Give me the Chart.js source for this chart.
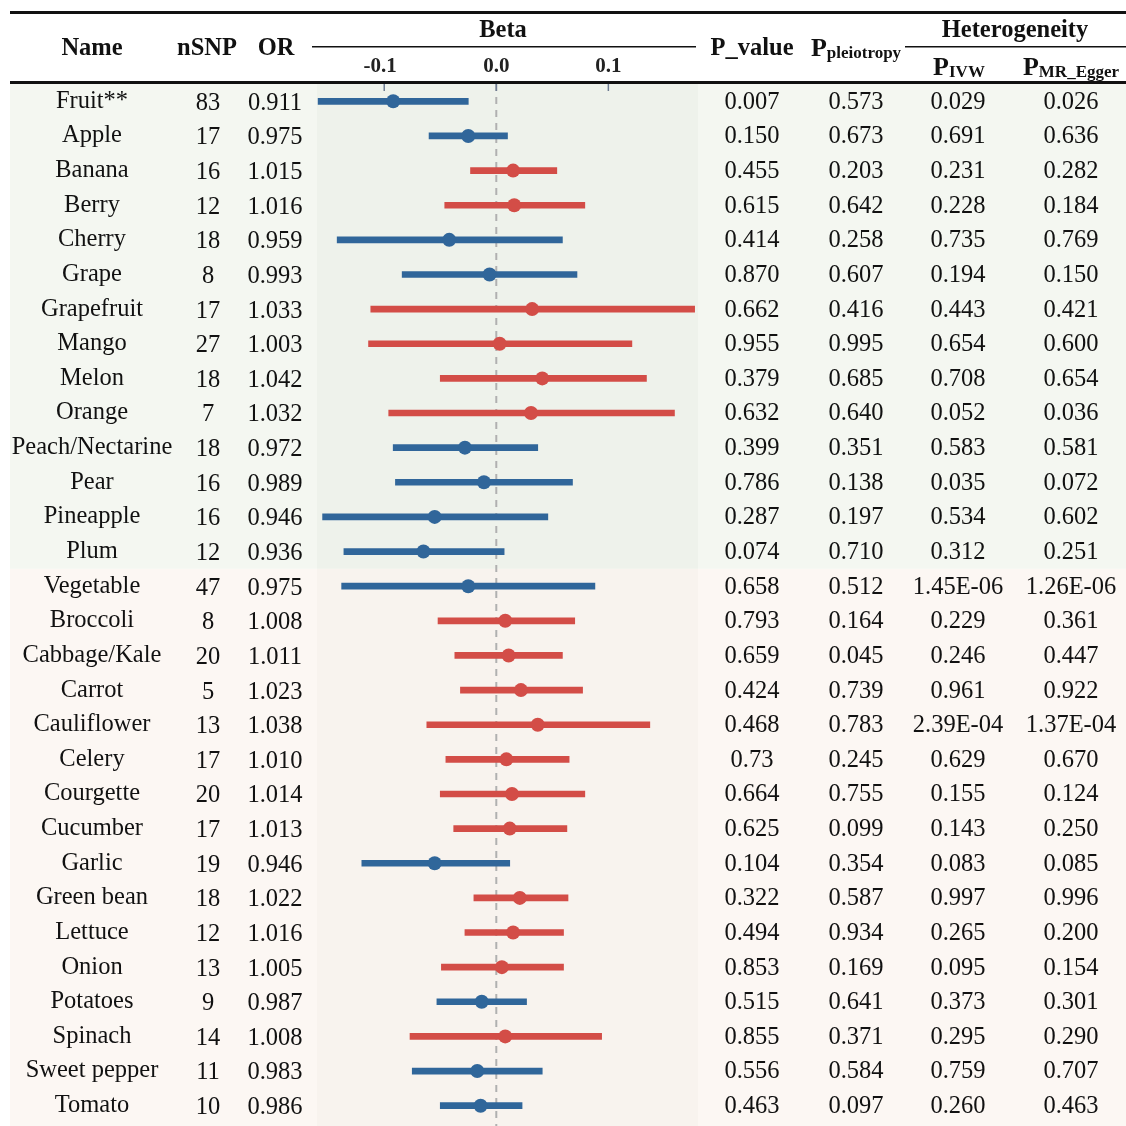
<!DOCTYPE html>
<html>
<head>
<meta charset="utf-8">
<script src="https://cdn.jsdelivr.net/npm/chart.js@4.4.1/dist/chart.umd.min.js"></script>
<style>
  html, body { margin: 0; padding: 0; background: #fff; overflow: hidden; }
  #forest { display: block; }
</style>
</head>
<body>
<canvas id="forest" width="1126" height="1130"></canvas>
<script>
const names = ['Fruit**', 'Apple', 'Banana', 'Berry', 'Cherry', 'Grape', 'Grapefruit', 'Mango', 'Melon', 'Orange',
  'Peach/Nectarine', 'Pear', 'Pineapple', 'Plum', 'Vegetable', 'Broccoli', 'Cabbage/Kale', 'Carrot', 'Cauliflower', 'Celery',
  'Courgette', 'Cucumber', 'Garlic', 'Green bean', 'Lettuce', 'Onion', 'Potatoes', 'Spinach', 'Sweet pepper', 'Tomato'];
const nSNP = ['83', '17', '16', '12', '18', '8', '17', '27', '18', '7', '18', '16', '16', '12', '47',
  '8', '20', '5', '13', '17', '20', '17', '19', '18', '12', '13', '9', '14', '11', '10'];
const orValues = ['0.911', '0.975', '1.015', '1.016', '0.959', '0.993', '1.033', '1.003', '1.042', '1.032',
  '0.972', '0.989', '0.946', '0.936', '0.975', '1.008', '1.011', '1.023', '1.038', '1.010',
  '1.014', '1.013', '0.946', '1.022', '1.016', '1.005', '0.987', '1.008', '0.983', '0.986'];
const pValue = ['0.007', '0.150', '0.455', '0.615', '0.414', '0.870', '0.662', '0.955', '0.379', '0.632',
  '0.399', '0.786', '0.287', '0.074', '0.658', '0.793', '0.659', '0.424', '0.468', '0.73',
  '0.664', '0.625', '0.104', '0.322', '0.494', '0.853', '0.515', '0.855', '0.556', '0.463'];
const pPleio = ['0.573', '0.673', '0.203', '0.642', '0.258', '0.607', '0.416', '0.995', '0.685', '0.640',
  '0.351', '0.138', '0.197', '0.710', '0.512', '0.164', '0.045', '0.739', '0.783', '0.245',
  '0.755', '0.099', '0.354', '0.587', '0.934', '0.169', '0.641', '0.371', '0.584', '0.097'];
const pIVW = ['0.029', '0.691', '0.231', '0.228', '0.735', '0.194', '0.443', '0.654', '0.708', '0.052',
  '0.583', '0.035', '0.534', '0.312', '1.45E-06', '0.229', '0.246', '0.961', '2.39E-04', '0.629',
  '0.155', '0.143', '0.083', '0.997', '0.265', '0.095', '0.373', '0.295', '0.759', '0.260'];
const pEgger = ['0.026', '0.636', '0.282', '0.184', '0.769', '0.150', '0.421', '0.600', '0.654', '0.036',
  '0.581', '0.072', '0.602', '0.251', '1.26E-06', '0.361', '0.447', '0.922', '1.37E-04', '0.670',
  '0.124', '0.250', '0.085', '0.996', '0.200', '0.154', '0.301', '0.290', '0.707', '0.463'];

// beta estimate and confidence interval
const beta = [-0.092, -0.025, 0.015, 0.016, -0.042, -0.006, 0.032, 0.003, 0.041, 0.031,
  -0.028, -0.011, -0.055, -0.065, -0.025, 0.008, 0.011, 0.022, 0.037, 0.009,
  0.014, 0.012, -0.055, 0.021, 0.015, 0.005, -0.013, 0.008, -0.017, -0.014];
const betaLow = [-0.159, -0.060, -0.023, -0.046, -0.142, -0.084, -0.112, -0.114, -0.050, -0.096,
  -0.092, -0.090, -0.155, -0.136, -0.138, -0.052, -0.037, -0.032, -0.062, -0.045,
  -0.050, -0.038, -0.120, -0.020, -0.028, -0.049, -0.053, -0.077, -0.075, -0.050];
const betaHigh = [-0.025, 0.010, 0.054, 0.079, 0.059, 0.072, 0.177, 0.121, 0.134, 0.159,
  0.037, 0.068, 0.046, 0.007, 0.088, 0.070, 0.059, 0.077, 0.137, 0.065,
  0.079, 0.063, 0.012, 0.064, 0.060, 0.060, 0.027, 0.094, 0.041, 0.023];
const betaTicks = [-0.1, 0.0, 0.1];
const fruitCount = 14;

const BLUE = '#30669a';
const RED = '#d34d47';
const rowColors = beta.map(b => b < 0 ? BLUE : RED);

const SERIF = '"Liberation Serif", "Times New Roman", serif';
const W = 1126;

// "P" with a bold subscript, centred on cx
function subLabel(ctx, main, sub, cx, y) {
  ctx.font = 'bold 26px ' + SERIF;
  const w1 = ctx.measureText(main).width;
  ctx.font = 'bold 17px ' + SERIF;
  const w2 = ctx.measureText(sub).width;
  const x0 = cx - (w1 + w2) / 2;
  ctx.textAlign = 'left';
  ctx.font = 'bold 26px ' + SERIF;
  ctx.fillText(main, x0, y);
  ctx.font = 'bold 17px ' + SERIF;
  ctx.fillText(sub, x0 + w1, y + 2);
}

const tablePlugin = {
  id: 'tablePlugin',
  beforeDatasetsDraw(chart) {
    const { ctx, chartArea, scales } = chart;
    const y = scales.y, x = scales.x;
    const top = chartArea.top;
    const split = (y.getPixelForValue(fruitCount - 1) + y.getPixelForValue(fruitCount)) / 2;
    const bottom = chart.height;
    ctx.save();
    // fruit group
    ctx.fillStyle = '#f4f7f1';
    ctx.fillRect(10, top, chartArea.left - 10, split - top);
    ctx.fillRect(chartArea.right, top, W - chartArea.right, split - top);
    ctx.fillStyle = '#eef2eb';
    ctx.fillRect(chartArea.left, top, chartArea.right - chartArea.left, split - top);
    // vegetable group
    ctx.fillStyle = '#fcf7f3';
    ctx.fillRect(10, split, chartArea.left - 10, bottom - split);
    ctx.fillRect(chartArea.right, split, W - chartArea.right, bottom - split);
    ctx.fillStyle = '#f8f3ee';
    ctx.fillRect(chartArea.left, split, chartArea.right - chartArea.left, bottom - split);

    // zero reference line
    const x0 = x.getPixelForValue(0);
    ctx.strokeStyle = '#b0b0b0';
    ctx.lineWidth = 2;
    ctx.setLineDash([7, 6]);
    ctx.beginPath();
    ctx.moveTo(x0, top);
    ctx.lineTo(x0, bottom);
    ctx.stroke();
    ctx.setLineDash([]);

    // tick marks
    ctx.strokeStyle = '#6d7b91';
    ctx.lineWidth = 1.5;
    betaTicks.forEach(t => {
      const tx = x.getPixelForValue(t);
      ctx.beginPath();
      ctx.moveTo(tx, top - 2);
      ctx.lineTo(tx, top + 7);
      ctx.stroke();
    });
    ctx.restore();
  },
  afterDraw(chart) {
    const { ctx, scales } = chart;
    const y = scales.y, x = scales.x;
    ctx.save();
    ctx.fillStyle = '#111';

    // header rules
    ctx.fillRect(10, 11, W - 10, 3);
    ctx.fillRect(10, 81, W - 10, 3);
    ctx.fillRect(312, 46, 384, 1.5);
    ctx.fillRect(905, 46, W - 905, 1.5);

    // header text
    ctx.textBaseline = 'middle';
    ctx.textAlign = 'center';
    ctx.font = 'bold 24.5px ' + SERIF;
    ctx.fillText('Name', 92, 49);
    ctx.fillText('nSNP', 207, 49);
    ctx.fillText('OR', 276, 49);
    ctx.fillText('Beta', 503, 31);
    ctx.fillText('P_value', 752, 49);
    ctx.fillText('Heterogeneity', 1015, 31);
    ctx.textBaseline = 'alphabetic';
    subLabel(ctx, 'P', 'pleiotropy', 856, 56);
    subLabel(ctx, 'P', 'IVW', 959, 75);
    subLabel(ctx, 'P', 'MR_Egger', 1071, 75);

    // beta tick labels
    ctx.textAlign = 'center';
    ctx.textBaseline = 'middle';
    ctx.font = 'bold 21px ' + SERIF;
    ctx.fillStyle = '#222';
    betaTicks.forEach(t => {
      ctx.fillText(t.toFixed(1), x.getPixelForValue(t) - (t < 0 ? 4 : 0), 67);
    });

    // body columns
    ctx.fillStyle = '#111';
    ctx.font = '24.5px ' + SERIF;
    names.forEach((n, i) => {
      const ry = y.getPixelForValue(i);
      ctx.fillText(n, 92, ry);
      ctx.fillText(nSNP[i], 208, ry + 2);
      ctx.fillText(orValues[i], 275, ry + 2);
      ctx.fillText(pValue[i], 752, ry + 1);
      ctx.fillText(pPleio[i], 856, ry + 1);
      ctx.fillText(pIVW[i], 958, ry + 1);
      ctx.fillText(pEgger[i], 1071, ry + 1);
    });
    ctx.restore();
  }
};

const ctx = document.getElementById('forest').getContext('2d');
const forestChart = new Chart(ctx, {
  data: {
    labels: names,
    datasets: [{
      type: 'bar',
      label: 'CI',
      indexAxis: 'y',
      data: betaLow.map((lo, i) => [lo, betaHigh[i]]),
      backgroundColor: rowColors,
      borderWidth: 0,
      barThickness: 6,
      order: 2
    }, {
      type: 'scatter',
      label: 'Beta',
      data: beta.map((b, i) => ({ x: b, y: i })),
      pointRadius: 7,
      pointHoverRadius: 7,
      pointBackgroundColor: rowColors,
      pointBorderWidth: 0,
      order: 1
    }]
  },
  options: {
    responsive: false,
    animation: false,
    indexAxis: 'y',
    layout: { padding: { left: 317, right: 428, top: 84, bottom: 0 } },
    scales: {
      x: { type: 'linear', min: -0.16, max: 0.18, display: false },
      y: { type: 'category', offset: true, display: false, grid: { display: false } }
    },
    plugins: {
      legend: { display: false },
      tooltip: { enabled: false }
    }
  },
  plugins: [tablePlugin]
});
</script>
</body>
</html>
